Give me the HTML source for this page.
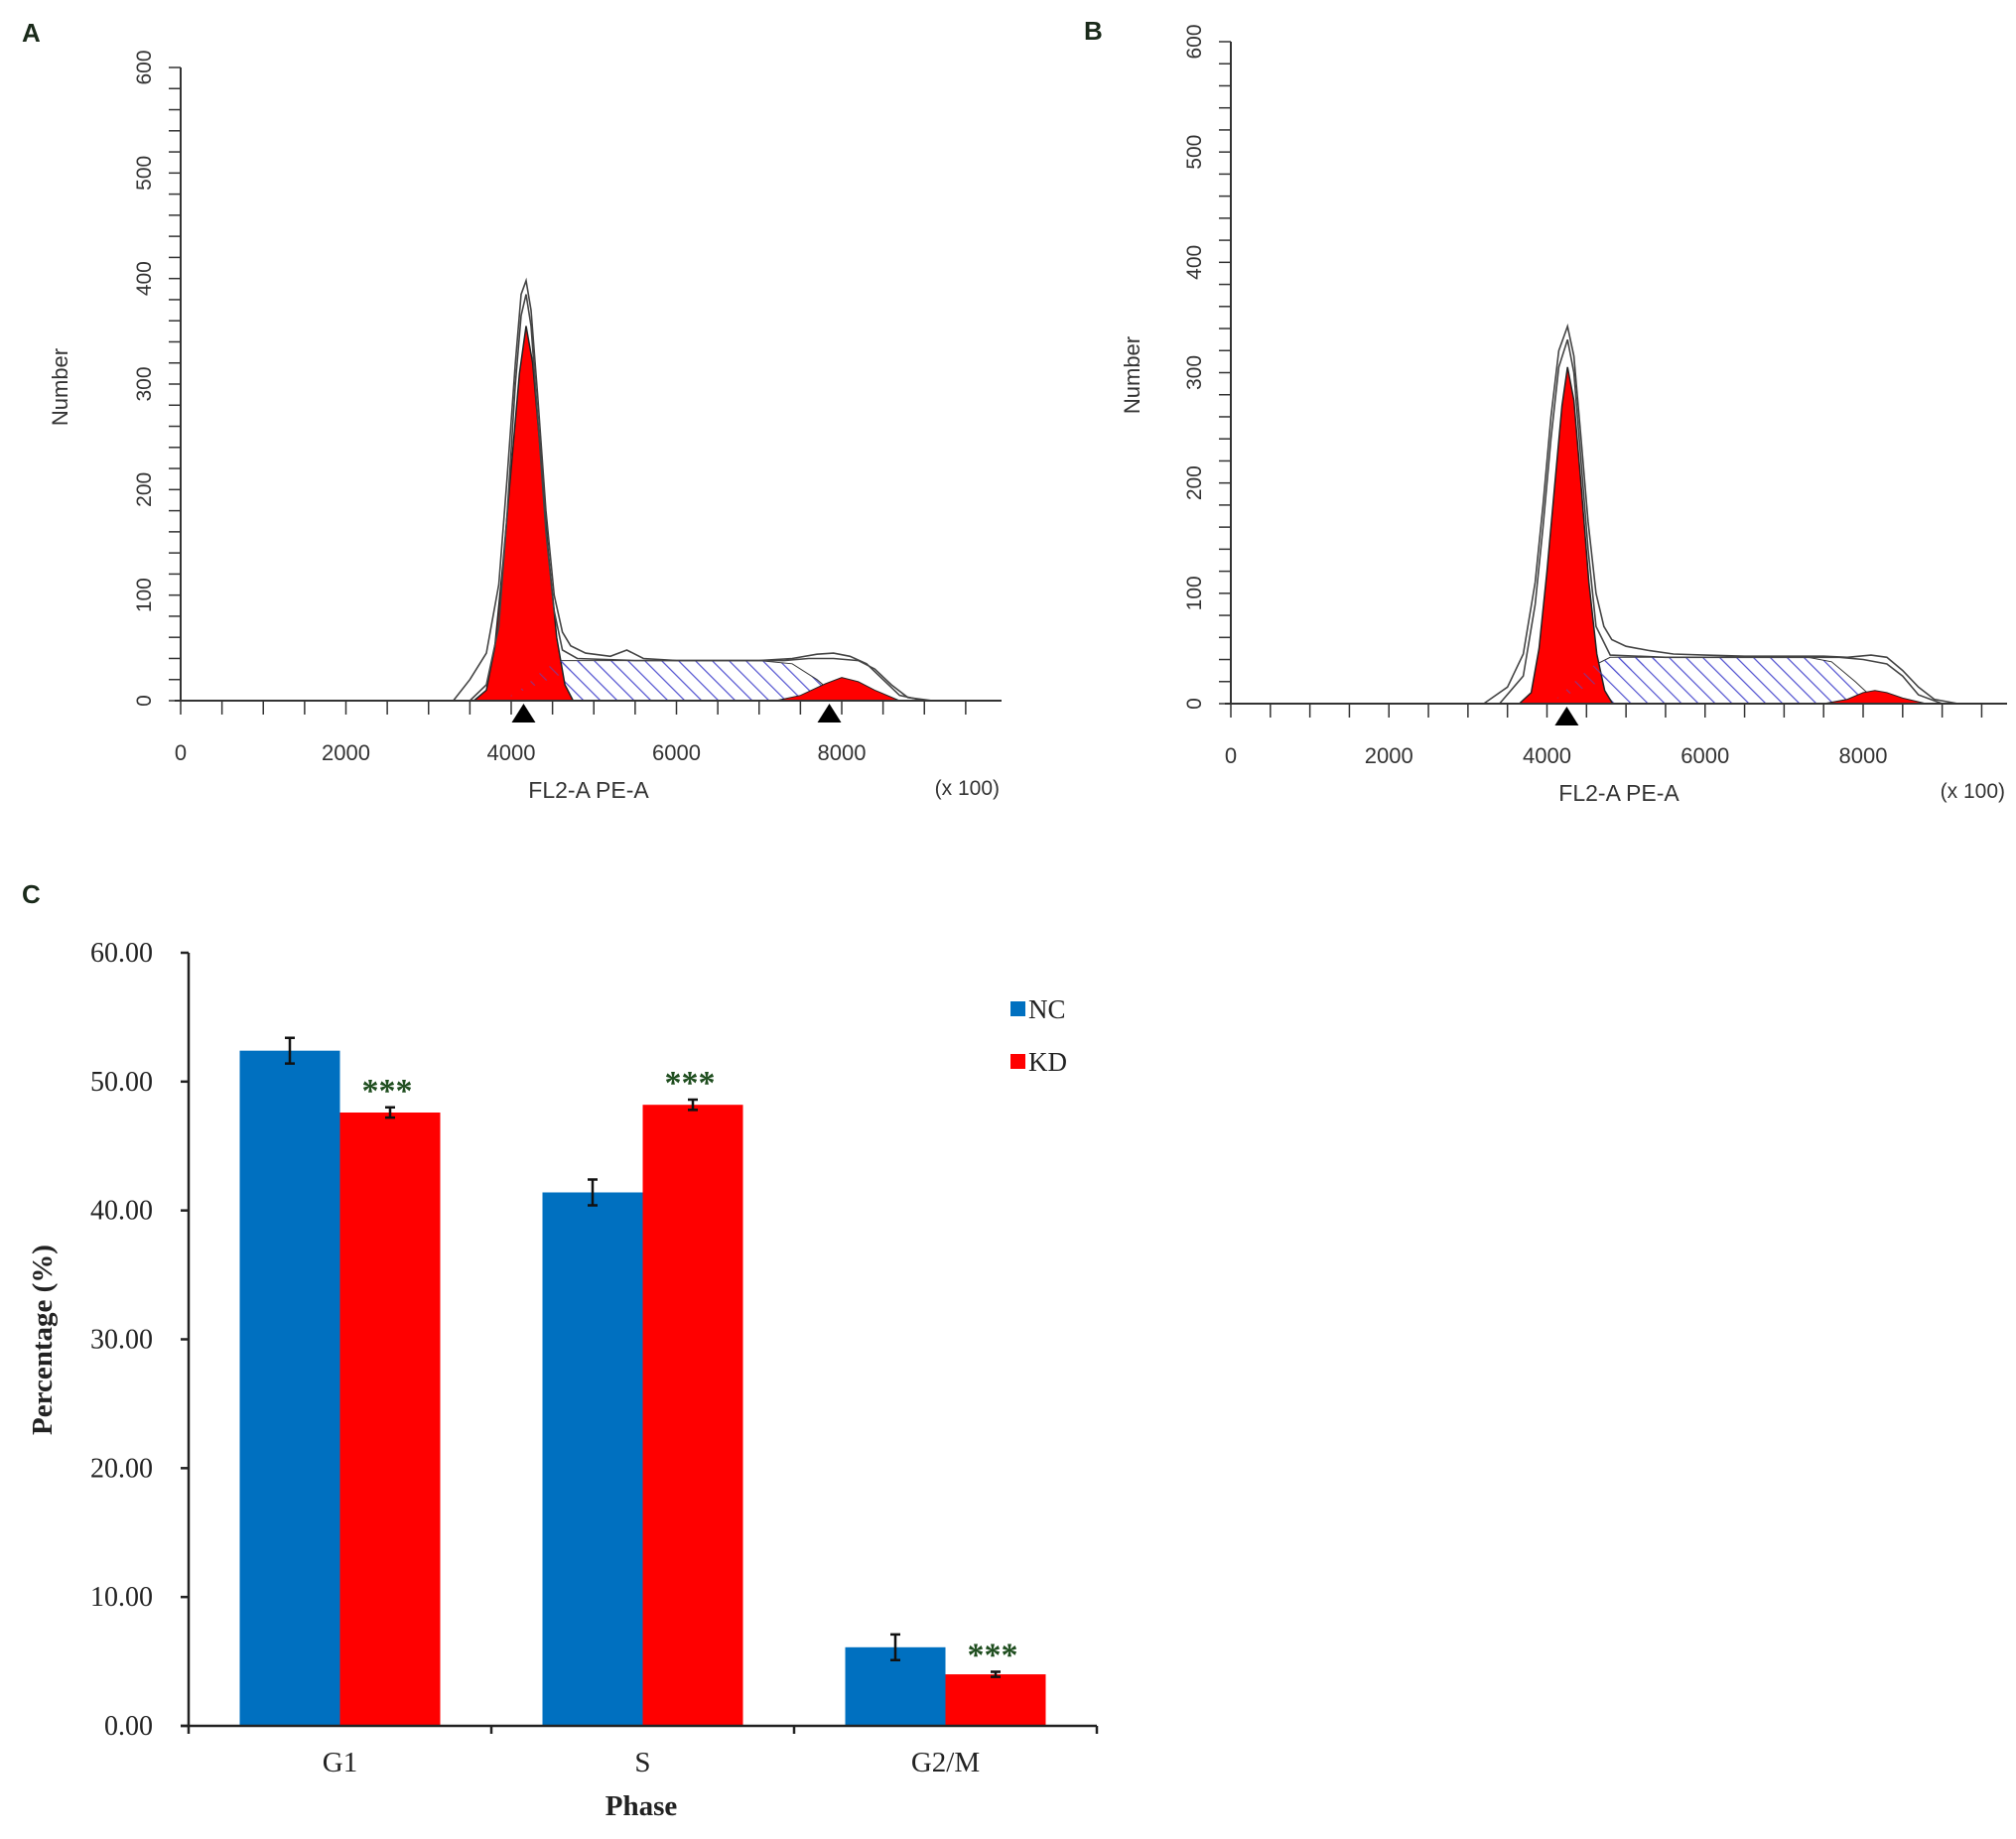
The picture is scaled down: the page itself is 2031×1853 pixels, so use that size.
<!DOCTYPE html>
<html><head><meta charset="utf-8"><style>
html,body{margin:0;padding:0;background:#fff;}
svg{display:block;}
</style></head><body>
<svg id="fig" width="2031" height="1853" viewBox="0 0 2031 1853" xmlns="http://www.w3.org/2000/svg">
<defs>
<pattern id="hatch" patternUnits="userSpaceOnUse" width="12" height="12" patternTransform="rotate(-45)">
<line x1="0" y1="0" x2="0" y2="12" stroke="#5050d0" stroke-width="2.4"/>
</pattern>
</defs>
<text x="22" y="42" font-family="Liberation Sans, sans-serif" font-weight="bold" font-size="26" fill="#1a2a1a">A</text>
<text x="1092" y="40" font-family="Liberation Sans, sans-serif" font-weight="bold" font-size="26" fill="#1a2a1a">B</text>
<text x="22" y="910" font-family="Liberation Sans, sans-serif" font-weight="bold" font-size="26" fill="#1a2a1a">C</text>
<g id="panelA"></g>
<g id="panelB"></g>
<g id="panelC"></g>
</svg>
<script>
// ---- Panel A data ----
const g1A_x=[3550,3700,3800,3900,4000,4100,4180,4260,4350,4450,4550,4650,4750];
const g1A_y=[0,10,50,130,220,310,355,320,240,140,60,15,0];
const sA_x=[3850,4000,4200,4400,4600,5000,6000,7000,7400,7700,8000];
const sA_y=[0,4,16,30,38,38,38,38,35,20,0];
const g2A_x=[7200,7500,7800,8000,8200,8400,8700];
const g2A_y=[0,5,16,22,18,10,0];
const o1A_x=[3300,3500,3700,3850,3950,4050,4120,4180,4240,4320,4420,4520,4620,4720,4900,5200,5400,5600,6000,6500,7000,7400,7700,7900,8100,8300,8500,8700,9000];
const o1A_y=[0,20,45,110,210,320,385,398,370,290,180,100,65,52,45,42,48,40,38,38,38,40,44,45,42,35,20,5,0];
const o2A_x=[3500,3700,3850,3950,4050,4120,4180,4240,4320,4420,4520,4620,4800,5500,6500,7300,7600,7900,8200,8400,8600,8800,9100];
const o2A_y=[0,15,70,175,300,365,385,355,270,160,85,48,40,38,38,38,40,40,38,30,15,3,0];
// ---- Panel B data ----
const g1B_x=[3650,3800,3900,4000,4100,4190,4260,4340,4430,4530,4630,4730,4830];
const g1B_y=[0,10,50,120,200,270,305,275,200,110,45,12,0];
const sB_x=[3950,4150,4350,4550,4800,5500,6500,7300,7600,7900,8200];
const sB_y=[0,6,20,33,42,42,42,42,38,20,0];
const g2B_x=[7500,7800,8000,8150,8300,8500,8800];
const g2B_y=[0,4,10,12,10,5,0];
const o1B_x=[3200,3500,3700,3850,3950,4050,4150,4260,4340,4420,4520,4620,4720,4820,5000,5300,5600,6000,6500,7000,7500,7800,8100,8300,8500,8700,8900,9200];
const o1B_y=[0,15,45,110,180,260,320,342,315,250,165,100,70,58,52,48,45,44,43,43,43,42,44,42,30,15,4,0];
const o2B_x=[3400,3700,3850,3950,4050,4150,4260,4340,4420,4520,4620,4800,5500,6500,7300,7700,8000,8300,8500,8700,9000];
const o2B_y=[0,25,90,160,240,305,330,300,230,140,70,44,42,42,42,42,40,36,25,8,0];
// ---- Panel C data ----
const phases=["G1","S","G2/M"];
const ncVals=[52.4,41.4,6.1];
const ncErr=[1.0,1.0,1.0];
const kdVals=[47.6,48.2,4.0];
const kdErr=[0.4,0.4,0.2];
const yTicksC=[0,10,20,30,40,50,60];
const xTicksHist=[0,2000,4000,6000,8000];
const yTicksHist=[0,100,200,300,400,500,600];

const NS="http://www.w3.org/2000/svg";
function mk(parent,tag,attrs,text){const e=document.createElementNS(NS,tag);for(const k in attrs)e.setAttribute(k,attrs[k]);if(text!==undefined)e.textContent=text;parent.appendChild(e);return e;}

function hist(gid,ax,name){
  const g=document.getElementById(gid);
  const X=v=>ax.x0+v*ax.kx, Y=v=>ax.y0-v*ax.ky;
  const pts=(xs,ys)=>xs.map((x,i)=>X(x).toFixed(1)+","+Y(ys[i]).toFixed(1)).join(" ");
  let e=mk(g,"polygon",{points:pts(ax.s[0],ax.s[1]),fill:"url(#hatch)",stroke:"#333","stroke-width":1});
  
  
  e=mk(g,"polygon",{points:pts(ax.g1[0],ax.g1[1]),fill:"#ff0000",stroke:"#222","stroke-width":1.5});
  
  
  e=mk(g,"polygon",{points:pts(ax.g2[0],ax.g2[1]),fill:"#ff0000",stroke:"#222","stroke-width":1});
  
  
  e=mk(g,"polygon",{points:pts(ax.s[0].slice(0,6),ax.s[1].slice(0,6)),fill:"url(#hatch)",opacity:0.6});
  
  
  ax.o.forEach((o,i)=>{
    const l=mk(g,"polyline",{points:pts(o[0],o[1]),fill:"none",stroke:"#444","stroke-width":1.6});
    
    
  });
  e=mk(g,"line",{x1:ax.x0,y1:ax.ytop,x2:ax.x0,y2:ax.y0,stroke:"#333","stroke-width":2});
  
  
  e=mk(g,"line",{x1:ax.x0-6,y1:ax.y0,x2:ax.xend,y2:ax.y0,stroke:"#333","stroke-width":2});
  
  
  for(let v=0;v<=600;v+=20){mk(g,"line",{x1:ax.x0-12,y1:Y(v),x2:ax.x0,y2:Y(v),stroke:"#333","stroke-width":1.5});}
  for(let v=500;X(v)<=ax.xend;v+=500){mk(g,"line",{x1:X(v),y1:ax.y0,x2:X(v),y2:ax.y0+14,stroke:"#333","stroke-width":1.5});}
  mk(g,"line",{x1:ax.x0,y1:ax.y0,x2:ax.x0,y2:ax.y0+14,stroke:"#333","stroke-width":1.5});
  yTicksHist.forEach(v=>{
    const t=mk(g,"text",{x:0,y:0,transform:`translate(${ax.x0-30},${Y(v)}) rotate(-90)`,"text-anchor":"middle","font-family":"Liberation Sans, sans-serif","font-size":21,fill:"#333"},String(v));
    
    
  });
  xTicksHist.forEach(v=>{
    const t=mk(g,"text",{x:X(v),y:ax.y0+60,"text-anchor":"middle","font-family":"Liberation Sans, sans-serif","font-size":22,fill:"#333"},String(v));
    
    
  });
  ax.tri.forEach(v=>{
    const t=mk(g,"polygon",{points:`${X(v)-12},${ax.y0+22} ${X(v)+12},${ax.y0+22} ${X(v)},${ax.y0+3}`,fill:"#000"});
    
    
  });
  e=mk(g,"text",{x:ax.labX,y:ax.y0+98,"text-anchor":"middle","font-family":"Liberation Sans, sans-serif","font-size":23,fill:"#333"},"FL2-A PE-A");
  
  
  e=mk(g,"text",{x:ax.xend-2,y:ax.y0+95,"text-anchor":"end","font-family":"Liberation Sans, sans-serif","font-size":21,fill:"#333"},"(x 100)");
  
  
  e=mk(g,"text",{x:0,y:0,transform:`translate(${ax.numX},${ax.numY}) rotate(-90)`,"text-anchor":"middle","font-family":"Liberation Sans, sans-serif","font-size":22,fill:"#333"},"Number");
  
  
}
hist("panelA",{x0:182,y0:706,ytop:68,kx:(848-182)/8000,ky:(706-68)/600,xend:1009,g1:[g1A_x,g1A_y],s:[sA_x,sA_y],g2:[g2A_x,g2A_y],o:[[o1A_x,o1A_y],[o2A_x,o2A_y]],tri:[4150,7850],labX:593,numX:68,numY:390},"hist-a");
hist("panelB",{x0:1240,y0:709,ytop:42,kx:(1877-1240)/8000,ky:(709-42)/600,xend:2022,g1:[g1B_x,g1B_y],s:[sB_x,sB_y],g2:[g2B_x,g2B_y],o:[[o1B_x,o1B_y],[o2B_x,o2B_y]],tri:[4250],labX:1631,numX:1148,numY:378},"hist-b");

// ---- Panel C ----
(function(){
  const g=document.getElementById("panelC");
  const x0=190,y0=1739,ytop=960,xend=1105,cw=(xend-x0)/3,bw=101;
  const ky=(y0-ytop)/60;
  const Y=v=>y0-v*ky;
  const F='Liberation Serif, serif';
  for(let i=0;i<phases.length;i++){
    const c=x0+cw*(i+0.5);
    const b1=mk(g,"rect",{x:c-bw,y:Y(ncVals[i]),width:bw,height:ncVals[i]*ky,fill:"#0070c0"});
    
    
    const b2=mk(g,"rect",{x:c,y:Y(kdVals[i]),width:bw,height:kdVals[i]*ky,fill:"#ff0000"});
    
    
    [[c-bw/2,ncVals[i],ncErr[i]],[c+bw/2,kdVals[i],kdErr[i]]].forEach(([ex,v,er])=>{
      const eb=mk(g,"path",{d:`M${ex},${Y(v-er)}V${Y(v+er)}M${ex-5},${Y(v-er)}H${ex+5}M${ex-5},${Y(v+er)}H${ex+5}`,stroke:"#111","stroke-width":2.5,fill:"none"});
      
      
    });
    const st=mk(g,"text",{x:c+bw/2-3,y:Y(kdVals[i]+kdErr[i])-6,"text-anchor":"middle","font-family":F,"font-weight":"bold","font-size":34,fill:"#1e4d1e"},"***");
    
    
    const tl=mk(g,"text",{x:c,y:y0+46,"text-anchor":"middle","font-family":F,"font-size":29,fill:"#222"},phases[i]);
    
    
    mk(g,"line",{x1:x0+cw*(i+1),y1:y0,x2:x0+cw*(i+1),y2:y0+8,stroke:"#222","stroke-width":2.5});
  }
  let e=mk(g,"line",{x1:x0,y1:ytop,x2:x0,y2:y0,stroke:"#222","stroke-width":2.5});
  
  
  e=mk(g,"line",{x1:x0-8,y1:y0,x2:xend,y2:y0,stroke:"#222","stroke-width":2.5});
  
  
  mk(g,"line",{x1:x0,y1:y0,x2:x0,y2:y0+8,stroke:"#222","stroke-width":2.5});
  yTicksC.forEach(v=>{
    mk(g,"line",{x1:x0-8,y1:Y(v),x2:x0,y2:Y(v),stroke:"#222","stroke-width":2.5});
    const t=mk(g,"text",{x:x0-36,y:Y(v)+9,"text-anchor":"end","font-family":F,"font-size":28,fill:"#222"},v.toFixed(2));
    
    
  });
  e=mk(g,"text",{x:0,y:0,transform:"translate(52,1350) rotate(-90)","text-anchor":"middle","font-family":F,"font-weight":"bold","font-size":29,fill:"#222"},"Percentage (%)");
  
  
  e=mk(g,"text",{x:646,y:1829,"text-anchor":"middle","font-family":F,"font-weight":"bold","font-size":29,fill:"#222"},"Phase");
  
  
  [["NC","#0070c0",1017],["KD","#ff0000",1070]].forEach(([lab,col,ly])=>{
    const s=mk(g,"rect",{x:1018,y:ly-8,width:15,height:15,fill:col});
    
    
    const t=mk(g,"text",{x:1036,y:ly+9,"font-family":F,"font-size":27,fill:"#222"},lab);
    
    
  });
})();
</script>
</body></html>
